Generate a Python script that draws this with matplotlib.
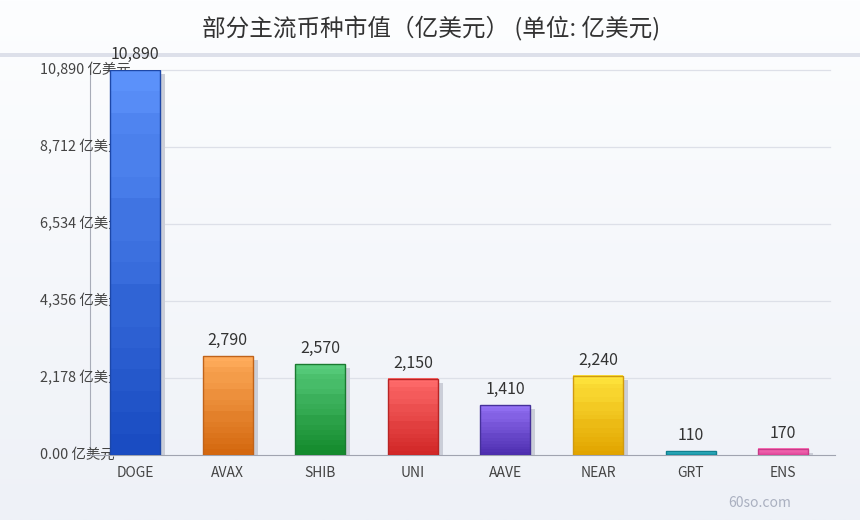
import numpy as np
import matplotlib
matplotlib.use('Agg')
import matplotlib.pyplot as plt
import matplotlib.transforms as mtransforms
from matplotlib.colors import LinearSegmentedColormap
from matplotlib.patches import Rectangle

plt.rcParams['font.family'] = ['Noto Sans CJK SC', 'DejaVu Sans']

# === data ===
coins = ['DOGE', 'AVAX', 'SHIB', 'UNI', 'AAVE', 'NEAR', 'GRT', 'ENS']
caps = [10890, 2790, 2570, 2150, 1410, 2240, 110, 170]
y_ticks = [0, 2178, 4356, 6534, 8712, 10890]
y_tick_labels = ['0.00 亿美元', '2,178 亿美元', '4,356 亿美元', '6,534 亿美元', '8,712 亿美元', '10,890 亿美元']
title = '部分主流币种市值（亿美元） (单位: 亿美元)'

# bar colours: top, bottom, edge
tops = ['#5b91fa', '#ffac5c', '#58cc7c', '#ff6b6b', '#9471f5', '#ffe53d', '#3fc4d4', '#ff78bd']
bottoms = ['#1a4cc2', '#d4680f', '#138a2c', '#d22828', '#4e2fb0', '#e2a500', '#148fa0', '#e0479a']
edges = ['#1d47a8', '#c0631a', '#1a7a30', '#b82424', '#45309a', '#d09a10', '#11808f', '#c83a88']

W, H = 860, 520
fig = plt.figure(figsize=(W / 100, H / 100), dpi=100)

# background gradient
bg = fig.add_axes([0, 0, 1, 1], zorder=-10)
grad = np.linspace(0, 1, 256).reshape(-1, 1)
bg_cmap = LinearSegmentedColormap.from_list('bg', ['#fdfeff', '#eef1f7'])
bg.imshow(grad, aspect='auto', cmap=bg_cmap, extent=[0, 1, 0, 1], origin='upper')
bg.axhspan(1 - 57 / H, 1 - 53 / H, color='#dde0ea', lw=0)
bg.set_xlim(0, 1)
bg.set_ylim(0, 1)
bg.axis('off')

fig.text(431 / W, 1 - 29 / H, title, ha='center', va='center', fontsize=17, color='#333333')
fig.text(760 / W, 1 - 503 / H, '60so.com', ha='center', va='center', fontsize=10, color='#aab0c0')

ax = fig.add_axes([90 / W, (H - 455) / H, 745 / W, 385 / H])
ax.patch.set_alpha(0)

for s in ['top', 'right']:
    ax.spines[s].set_visible(False)
ax.spines['left'].set_color('#a8acb8')
ax.spines['bottom'].set_color('#a0a4b0')
ax.spines['left'].set_zorder(0.5)

ax.set_xticks(range(len(coins)))
ax.set_xticklabels(coins, fontsize=10, color='#444444')
ax.tick_params(axis='x', length=0, pad=8)
ax.set_yticks([])

# grid lines
gtrans = mtransforms.blended_transform_factory(ax.transAxes, ax.transData)
for v in y_ticks[1:]:
    ax.plot([20 / 745, 740 / 745], [v, v], transform=gtrans, color='#dde0e8', lw=0.9, zorder=0.8, clip_on=False)

# y labels, left aligned, drawn beneath the bars
ltrans = mtransforms.blended_transform_factory(fig.transFigure, ax.transData)
for v, lab in zip(y_ticks, y_tick_labels):
    ax.text(40 / W, v, lab, transform=ltrans, ha='left', va='center', fontsize=10.4,
            color='#444444', zorder=1, clip_on=False)

bw = 0.54
shadow = mtransforms.offset_copy(ax.transData, fig=fig, x=5, y=-4, units='dots')
nb = 18
for i, (v, ct, cb, ce) in enumerate(zip(caps, tops, bottoms, edges)):
    x0 = i - bw / 2
    ax.add_patch(Rectangle((x0, 0), bw, v, transform=shadow, facecolor='#cbced8', lw=0, zorder=2))
    cmap = LinearSegmentedColormap.from_list('b%d' % i, [cb, ct])
    steps = np.floor(np.linspace(0, 1, nb, endpoint=False) * nb) / (nb - 1)
    ax.imshow(steps[::-1].reshape(-1, 1), cmap=cmap, vmin=0, vmax=1, aspect='auto',
              extent=[x0, x0 + bw, 0, v], interpolation='nearest', zorder=3)
    ax.add_patch(Rectangle((x0, 0), bw, v, facecolor='none', edgecolor=ce, lw=1, zorder=4))
    ax.annotate(f'{v:,}', (i, v), xytext=(0, 5), textcoords='offset points', ha='center',
                va='bottom', fontsize=11.5, color='#333333', zorder=5, annotation_clip=False)

ax.set_xlim(-0.486, 7.56)
ax.set_ylim(0, 10890)
ax.set_aspect('auto')

fig.savefig('out.png', dpi=100)
